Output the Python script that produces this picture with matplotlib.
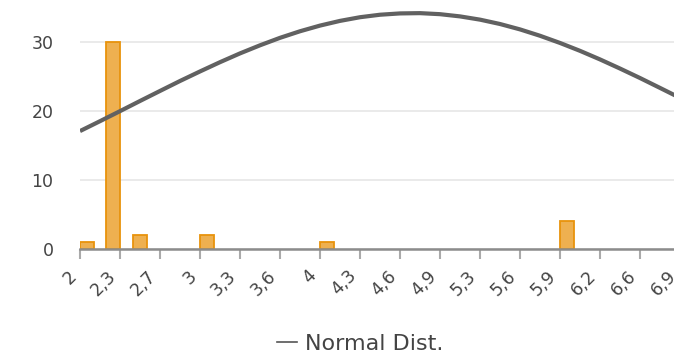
import matplotlib.pyplot as plt
import numpy as np
from matplotlib.lines import Line2D

# histogram bars (left edge, count)
bar_left = [2.0, 2.21, 2.43, 2.98, 3.96, 5.92]
bar_count = [1, 30, 2, 2, 1, 4]
bar_width = 0.115

tick_vals = np.linspace(2, 6.9, 16)
tick_labels = ["2", "2,3", "2,7", "3", "3,3", "3,6", "4", "4,3", "4,6",
               "4,9", "5,3", "5,6", "5,9", "6,2", "6,6", "6,9"]

# normal distribution curve, read every half tick
curve_x = np.linspace(2, 6.9, 31)
curve_y = [17.05, 18.48, 19.93, 21.40, 22.85, 24.29, 25.67, 27.01, 28.28,
           29.45, 30.53, 31.48, 32.30, 32.98, 33.51, 33.87, 34.06, 34.10,
           33.95, 33.63, 33.16, 32.53, 31.75, 30.83, 29.79, 28.65, 27.41,
           26.09, 24.72, 23.29, 21.85]

plt.rcParams['font.family'] = ['DejaVu Sans']
text_col = "#444444"

fig = plt.figure(figsize=(6.74, 3.61), dpi=100)
ax = fig.add_axes([80 / 674, 112 / 361, 600 / 674, 249 / 361])

ax.bar(bar_left, bar_count, width=bar_width, align='edge',
       color="#eeb050", edgecolor="#e8930c", linewidth=1.3, zorder=3)
ax.plot(curve_x, curve_y, color="#616161", lw=3, zorder=4,
        solid_capstyle='butt', solid_joinstyle='round')

ax.set_xlim(2, 6.9)
ax.set_ylim(0, 36)
ax.set_yticks([0, 10, 20, 30])
ax.set_xticks(tick_vals)
ax.set_xticklabels(tick_labels, rotation=45, ha='right', va='bottom',
                   rotation_mode='anchor')
ax.grid(axis='y', color="#e6e6e6", lw=1.2, zorder=0)

for s in ['left', 'right', 'top']:
    ax.spines[s].set_visible(False)
ax.spines['bottom'].set_color("#8c8c8c")
ax.spines['bottom'].set_linewidth(1.8)
ax.spines['bottom'].set_zorder(5)

ax.tick_params(axis='y', length=0, pad=19, labelsize=12.5, labelcolor=text_col)
ax.tick_params(axis='x', length=7, width=1.5, color="#aaaaaa", pad=15,
               labelsize=12.5, labelcolor=text_col)

handle = Line2D([], [], color="#555555", lw=1.2)
fig.legend([handle], ["Normal Dist."], loc='center', bbox_to_anchor=(360 / 674, 1 - 344 / 361),
           frameon=False, fontsize=16, handlelength=0.9, handletextpad=0.35,
           labelcolor=text_col)

fig.savefig("out.png", dpi=100)
